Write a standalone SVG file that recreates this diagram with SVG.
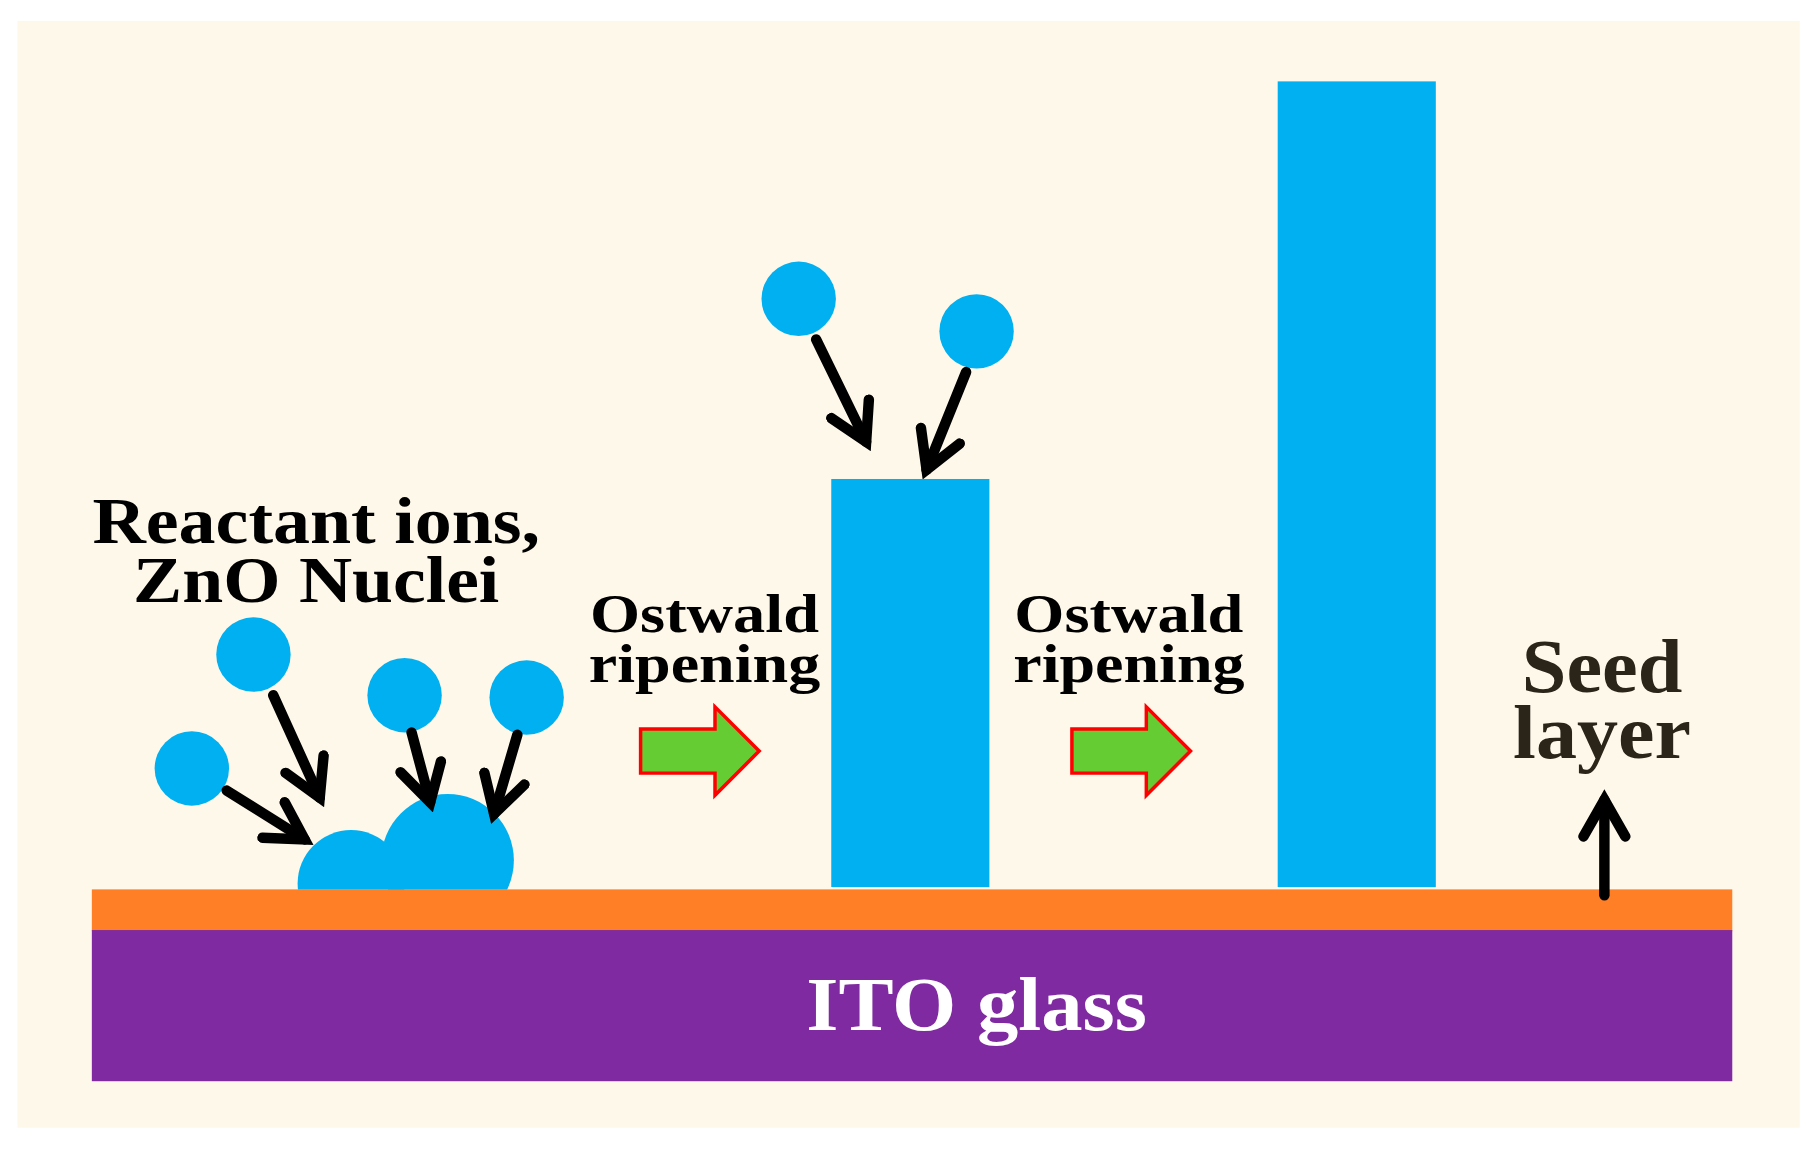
<svg xmlns="http://www.w3.org/2000/svg" width="1816" height="1156" viewBox="0 0 1816 1156">
<style>
.t{font-family:"Liberation Serif",serif;font-weight:bold;text-anchor:middle}
.b{fill:#00b0f0}
.a{fill:none;stroke:#000;stroke-width:9;stroke-linecap:round;stroke-linejoin:miter}
.g{fill:#66cc33;stroke:#ff0000;stroke-width:3}
</style>
<defs>
<marker id="h" viewBox="0 0 10 10" refX="8" refY="5" markerWidth="5" markerHeight="5" markerUnits="strokeWidth" orient="auto">
<path d="M1,1 L8,5 L1,9" fill="none" stroke="#000" stroke-width="2" stroke-linecap="round"/>
</marker>
</defs>
<rect width="1816" height="1156" fill="#fff"/>
<g transform="scale(1.1626)">
<rect x="15" y="18" width="1533" height="952" fill="#fdf8ea"/>
<g id="substrate">
<rect x="79" y="765" width="1411" height="36" fill="#ff7f27"/>
<rect x="79" y="800" width="1411" height="130" fill="#7f2aa0"/>
<text class="t" x="840" y="886" font-size="66" fill="#fff" textLength="293" lengthAdjust="spacingAndGlyphs">ITO glass</text>
</g>
<g id="nuclei">
<clipPath id="c"><rect x="0" y="0" width="1600" height="765"/></clipPath>
<g clip-path="url(#c)">
<circle class="b" cx="302" cy="760" r="46"/>
<circle class="b" cx="385" cy="740" r="57"/>
</g>
<circle class="b" cx="218" cy="563" r="32"/>
<circle class="b" cx="348" cy="598" r="32"/>
<circle class="b" cx="453" cy="600" r="32"/>
<circle class="b" cx="165" cy="661" r="32"/>
</g>
<g id="rod1">
<rect class="b" x="715" y="412" width="136" height="351"/>
<circle class="b" cx="687" cy="257" r="32"/>
<circle class="b" cx="840" cy="285" r="32"/>
</g>
<g id="rod2"><rect class="b" x="1099" y="70" width="136" height="693"/></g>
<g id="connectors">
<line class="a" x1="702" y1="292" x2="745" y2="380" marker-end="url(#h)"/>
<line class="a" x1="831" y1="320" x2="797" y2="404" marker-end="url(#h)"/>
<line class="a" x1="235" y1="598" x2="275" y2="686" marker-end="url(#h)"/>
<line class="a" x1="354" y1="630" x2="370" y2="690" marker-end="url(#h)"/>
<line class="a" x1="445" y1="632" x2="425" y2="700" marker-end="url(#h)"/>
<line class="a" x1="195" y1="680" x2="262" y2="722" marker-end="url(#h)"/>
<line class="a" x1="1380" y1="770" x2="1380" y2="688" marker-end="url(#h)"/>
<path class="g" d="M551,627 H615 V608 L653,646 L615,684 V665 H551 Z"/>
<path class="g" d="M922,627 H986 V608 L1024,646 L986,684 V665 H922 Z"/>
</g>
<g id="labels">
<text class="t" x="272" y="467" font-size="56" textLength="385" lengthAdjust="spacingAndGlyphs">Reactant ions,</text>
<text class="t" x="272" y="518" font-size="56" textLength="315" lengthAdjust="spacingAndGlyphs">ZnO Nuclei</text>
<text class="t" x="606" y="544" font-size="48" textLength="197" lengthAdjust="spacingAndGlyphs">Ostwald</text>
<text class="t" x="606" y="587" font-size="48" textLength="199" lengthAdjust="spacingAndGlyphs">ripening</text>
<text class="t" x="971" y="544" font-size="48" textLength="197" lengthAdjust="spacingAndGlyphs">Ostwald</text>
<text class="t" x="971" y="587" font-size="48" textLength="199" lengthAdjust="spacingAndGlyphs">ripening</text>
<text class="t" x="1378" y="595" font-size="66" fill="#2b2519" textLength="138" lengthAdjust="spacingAndGlyphs">Seed</text>
<text class="t" x="1378" y="652" font-size="66" fill="#2b2519" textLength="153" lengthAdjust="spacingAndGlyphs">layer</text>
</g>
</g>
</svg>
